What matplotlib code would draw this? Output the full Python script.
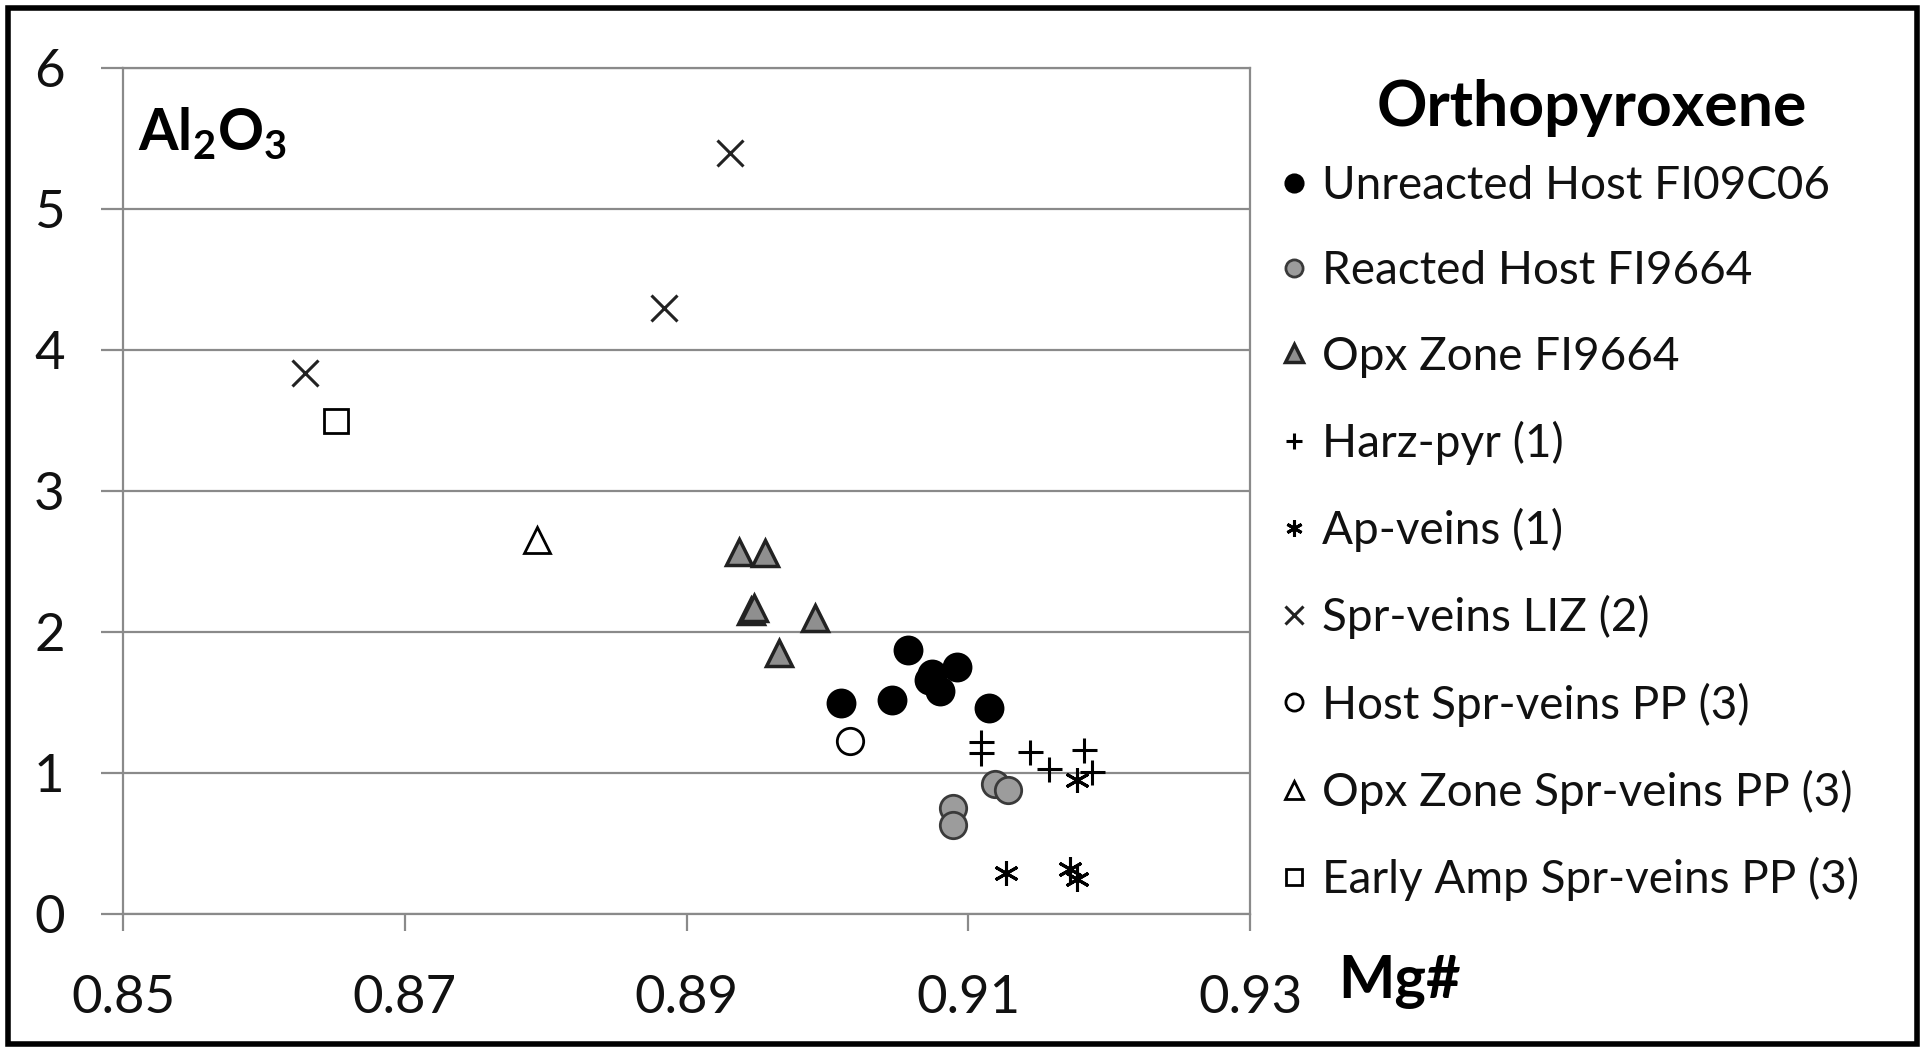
import matplotlib
matplotlib.use("Agg")
import matplotlib.pyplot as plt
from matplotlib.patches import Rectangle

plt.rcParams['font.family'] = ['Lato', 'DejaVu Sans']

# ---- data (Mg#, Al2O3 wt%) ----
unreacted_x = [0.9057, 0.9010, 0.9046, 0.9074, 0.9092, 0.9080, 0.9072, 0.9115]
unreacted_y = [1.87, 1.50, 1.52, 1.70, 1.75, 1.58, 1.66, 1.46]

reacted_x = [0.9119, 0.9128, 0.9089, 0.9089]
reacted_y = [0.92, 0.88, 0.75, 0.63]

opxzone_x = [0.8937, 0.8956, 0.8946, 0.8948, 0.8991, 0.8966]
opxzone_y = [2.57, 2.56, 2.15, 2.17, 2.10, 1.85]

harz_x = [0.9109, 0.9109, 0.9144, 0.9157, 0.9182, 0.9188]
harz_y = [1.22, 1.14, 1.15, 1.03, 1.16, 1.01]

ap_x = [0.9127, 0.9172, 0.9177, 0.9177]
ap_y = [0.29, 0.32, 0.25, 0.95]

liz_x = [0.8629, 0.8884, 0.8931]
liz_y = [3.84, 4.30, 5.40]

hostpp_x = [0.9016]
hostpp_y = [1.23]

opxpp_x = [0.8794]
opxpp_y = [2.65]

amppp_x = [0.8651]
amppp_y = [3.50]

labels = ["Unreacted Host FI09C06", "Reacted Host FI9664", "Opx Zone FI9664",
          "Harz-pyr (1)", "Ap-veins (1)", "Spr-veins LIZ (2)",
          "Host Spr-veins PP (3)", "Opx Zone Spr-veins PP (3)",
          "Early Amp Spr-veins PP (3)"]

xticks = [0.85, 0.87, 0.89, 0.91, 0.93]
yticks = [0, 1, 2, 3, 4, 5, 6]

fig = plt.figure(figsize=(19.25, 10.48), dpi=100)
ax = fig.add_axes([123/1925, 1 - 914/1048, (1250-123)/1925, (914-68)/1048])

gray = '#8a8a8a'
h = []
h.append(ax.plot(unreacted_x, unreacted_y, 'o', ms=20, mfc='black', mec='black', mew=1.5, ls='none')[0])
h.append(ax.plot(reacted_x, reacted_y, 'o', ms=19, mfc='#9c9c9c', mec='#3a3a3a', mew=2, ls='none')[0])
h.append(ax.plot(opxzone_x, opxzone_y, '^', ms=19, mfc='#8f8f8f', mec='#222222', mew=2.5, ls='none')[0])
h.append(ax.plot(harz_x, harz_y, '+', ms=18, mec='black', mew=2.2, ls='none')[0])
h.append(ax.plot(ap_x, ap_y, marker=(6, 2, 0), ms=18, mec='black', mew=2.2, ls='none')[0])
h.append(ax.plot(liz_x, liz_y, 'x', ms=19, mec='#222222', mew=2.2, ls='none')[0])
h.append(ax.plot(hostpp_x, hostpp_y, 'o', ms=19, mfc='white', mec='black', mew=2, ls='none')[0])
h.append(ax.plot(opxpp_x, opxpp_y, '^', ms=19, mfc='white', mec='black', mew=2, ls='none')[0])
h.append(ax.plot(amppp_x, amppp_y, 's', ms=17, mfc='white', mec='black', mew=2, ls='none')[0])

ax.set_xlim(0.85, 0.93)
ax.set_ylim(0, 6)
ax.set_xticks(xticks)
ax.set_xticklabels([f"{v:.2f}" for v in xticks])
ax.set_yticks(yticks)
ax.set_yticklabels([str(v) for v in yticks])
ax.yaxis.grid(True, color=gray, lw=1.6)
ax.set_axisbelow(True)
for s in ['left', 'bottom', 'right', 'top']:
    ax.spines[s].set_color(gray)
    ax.spines[s].set_linewidth(1.6)
ax.tick_params(axis='y', direction='out', length=16, width=1.6, color=gray,
               labelsize=38, pad=26, labelcolor='#111111')
ax.tick_params(axis='x', direction='out', length=12, width=1.6, color=gray,
               labelsize=38, pad=32, labelcolor='#111111')

ax.text(0.013, 0.955, r"Al$_\mathregular{2}$O$_\mathregular{3}$", transform=ax.transAxes,
        fontsize=41, fontweight='bold', va='top', ha='left')
fig.text(1338/1925, 1 - 982/1048, "Mg#", fontsize=43, fontweight='bold', va='center', ha='left')
fig.text(1592/1925, 1 - 108/1048, "Orthopyroxene", fontsize=45, fontweight='bold',
         va='center', ha='center')

leg = ax.legend(h, labels, loc='upper left', bbox_to_anchor=(1262/1925, 1 - 147/1048),
                bbox_transform=fig.transFigure, frameon=False,
                fontsize=33, markerscale=0.65, handlelength=0.6, handletextpad=0.3,
                labelspacing=0.94, borderaxespad=0)
for t in leg.get_texts():
    t.set_color('#111111')

fig.patches.append(Rectangle((0.004, 0.004), 0.992, 0.988, transform=fig.transFigure,
                             fill=False, edgecolor='black', lw=4))

fig.savefig("out.png", dpi=100)
